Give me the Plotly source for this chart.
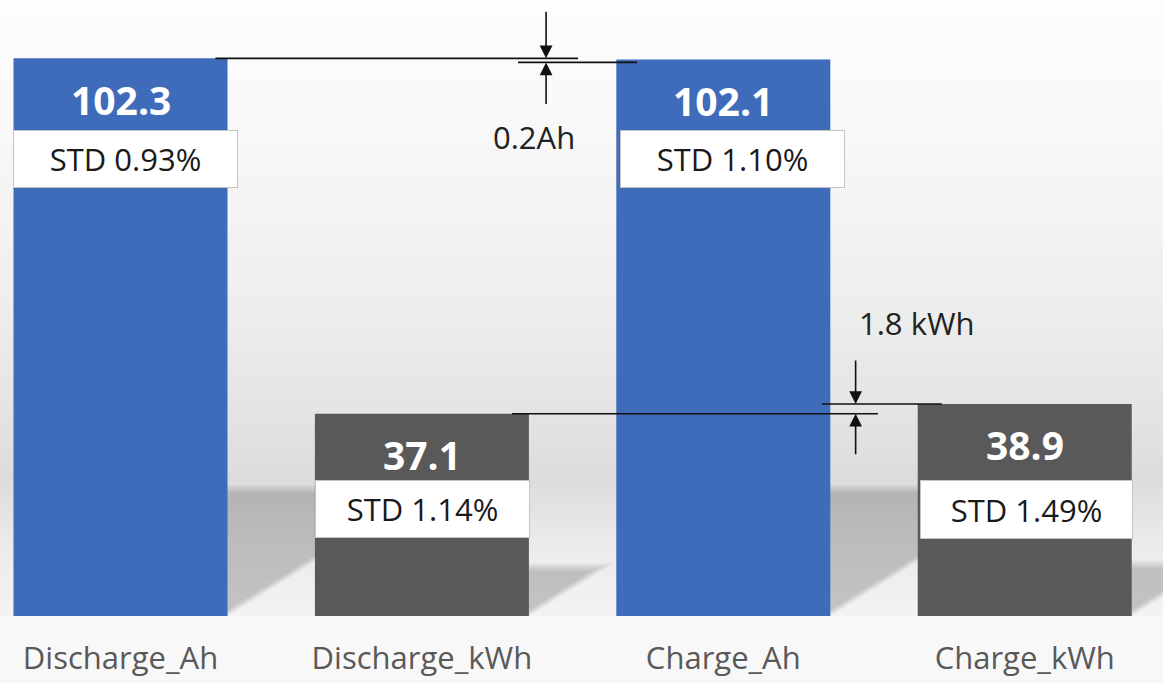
import numpy as np
import plotly.graph_objects as go

# ---- data ----
categories = ["Discharge_Ah", "Discharge_kWh", "Charge_Ah", "Charge_kWh"]
values = [102.3, 37.1, 102.1, 38.9]
std_labels = ["STD 0.93%", "STD 1.14%", "STD 1.10%", "STD 1.49%"]
ah_gap_label = "0.2Ah"
kwh_gap_label = "1.8 kWh"

# ---- styling ----
bar_colors = ["#3F6BBB", "#595959", "#3F6BBB", "#595959"]
BAR_W = 0.71
FIG_W, FIG_H = 1163, 683
MARGIN_B = 67
PLOT_H = FIG_H - MARGIN_B
Y_MAX = 113.0
X_RANGE = [-0.3998, 3.4588]
PX_PER_Y = PLOT_H / Y_MAX
PX_PER_X = FIG_W / (X_RANGE[1] - X_RANGE[0])

# STD boxes: centre offset from category (x units), centre height (y units), size (px)
std_box_dx = [0.017, 0.003, 0.03, 0.006]
std_box_y = [83.9, 19.6, 83.9, 19.6]
std_box_w = [223, 213, 223, 211]
std_box_h = [56, 56, 56, 57]

x = np.arange(len(categories))

fig = go.Figure()
fig.add_trace(go.Bar(
    x=x, y=values, width=BAR_W,
    marker=dict(color=bar_colors, line=dict(width=0)),
    hoverinfo="skip",
))

shapes = []

# vertical background gradient (light at the top, grey toward the floor line)
stops_px = [0, 120, 300, 430, 478, 540, 616]
stops_gray = [253, 249, 238, 226, 220, 234, 243]
step = 4
for top in range(0, PLOT_H, step):
    g = int(round(np.interp(top + step / 2, stops_px, stops_gray)))
    shapes.append(dict(
        type="rect", xref="paper", yref="paper", layer="below",
        x0=0, x1=1, y0=1 - (top + step) / PLOT_H, y1=1 - top / PLOT_H,
        fillcolor=f"rgb({g},{g},{g})", line=dict(width=0),
    ))

# floor shadows cast by each bar toward the upper right
SHADOW_K = 0.26
SHADOW_CAP = 24.0
SHADOW_SLOPE = 1.6
for xi, v in zip(x, values):
    dy = min(SHADOW_K * v, SHADOW_CAP)
    for j in range(4):
        d = dy - j * 0.45
        sx = SHADOW_SLOPE * d * PX_PER_Y / PX_PER_X
        inset = j * 3 / PX_PER_X
        x0 = xi - BAR_W / 2
        x1 = xi + BAR_W / 2 - inset
        path = (f"M {x0},0 L {x1},0 L {x1 + sx},{d} "
                f"L {x0 + sx},{d} Z")
        shapes.append(dict(
            type="path", path=path, xref="x", yref="y", layer="below",
            fillcolor="rgba(0,0,0,0.05)", line=dict(width=0),
        ))

# reference lines marking the difference between bar tops
line_style = dict(color="#111111", width=1.6)
shapes.append(dict(type="line", xref="x", yref="y", layer="above",
                   x0=0.315, x1=1.518, y0=values[0], y1=values[0], line=line_style))
shapes.append(dict(type="line", xref="x", yref="y", layer="above",
                   x0=1.319, x1=1.714, ysizemode="pixel", yanchor=values[2],
                   y0=-3, y1=-3, line=line_style))
shapes.append(dict(type="line", xref="x", yref="y", layer="above",
                   x0=1.299, x1=2.513, y0=values[1], y1=values[1], line=line_style))
shapes.append(dict(type="line", xref="x", yref="y", layer="above",
                   x0=2.327, x1=2.725, y0=values[3], y1=values[3], line=line_style))

annotations = []
font_main = "Open Sans, Noto Sans, sans-serif"

# value labels inside the bars
for xi, v in zip(x, values):
    annotations.append(dict(
        x=xi, y=v, xref="x", yref="y", text=f"<b>{v:.1f}</b>",
        showarrow=False, yanchor="middle", yshift=-41,
        font=dict(family=font_main, size=39, color="white"),
    ))

# STD boxes
for xi, lab, dx, yb, w, h in zip(x, std_labels, std_box_dx, std_box_y, std_box_w, std_box_h):
    annotations.append(dict(
        x=xi + dx, y=yb, xref="x", yref="y", text=lab, showarrow=False,
        width=w, height=h, bgcolor="white", bordercolor="#C4C4C4",
        borderwidth=1, borderpad=0, align="center", valign="middle",
        font=dict(family=font_main, size=31, color="#1A1A1A"),
    ))

# arrows pointing at the two reference levels
arrow_style = dict(showarrow=True, arrowhead=2, arrowsize=1.6, arrowwidth=1.6,
                   arrowcolor="#111111", text="", xref="x", yref="y",
                   axref="pixel", ayref="pixel", ax=0)
annotations.append(dict(x=1.412, y=values[0], ay=-48, **arrow_style))
annotations.append(dict(x=1.412, y=values[2], yshift=-3, ay=43, **arrow_style))
annotations.append(dict(x=2.439, y=values[3], ay=-45, **arrow_style))
annotations.append(dict(x=2.439, y=values[1], ay=42, **arrow_style))

# difference labels
annotations.append(dict(x=1.372, y=87.9, xref="x", yref="y", text=ah_gap_label,
                        showarrow=False, font=dict(family=font_main, size=31, color="#222222")))
annotations.append(dict(x=2.643, y=53.7, xref="x", yref="y", text=kwh_gap_label,
                        showarrow=False, font=dict(family=font_main, size=31, color="#222222")))

fig.update_layout(
    width=FIG_W, height=FIG_H,
    margin=dict(l=0, r=0, t=0, b=MARGIN_B, pad=0),
    paper_bgcolor="#F8F8F8", plot_bgcolor="#F0F0F0",
    showlegend=False, bargap=0.29,
    shapes=shapes, annotations=annotations,
    xaxis=dict(range=X_RANGE, tickmode="array", tickvals=x, ticktext=categories,
               showgrid=False, zeroline=False, showline=False, ticks="",
               tickfont=dict(family=font_main, size=31, color="#595959"),
               ticklabelstandoff=21, automargin=False, fixedrange=True),
    yaxis=dict(range=[0, Y_MAX], visible=False, showgrid=False, zeroline=False,
               fixedrange=True),
)

fig.write_html("out.html", config={"displayModeBar": False})
